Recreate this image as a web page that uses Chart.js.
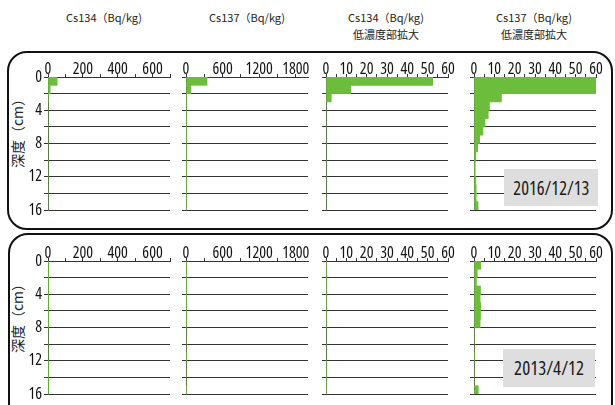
<!DOCTYPE html>
<html lang="ja">
<head>
<meta charset="UTF-8">
<title>深度別 放射性セシウム濃度</title>
<script src="https://cdn.jsdelivr.net/npm/chart.js"></script>
<style>
  body { margin: 0; width: 615px; height: 405px; background: #fff; position: relative; overflow: hidden;
         font-family: "Noto Sans CJK JP", "Noto Sans", sans-serif; color: #222; }
  #charts canvas { position: absolute; }
  .frame { position: absolute; border: 2px solid #111; border-radius: 20px; box-sizing: border-box; }
  .head { position: absolute; font-size: 11px; line-height: 17px; text-align: center; transform: translateX(-50%); white-space: nowrap; }
  .ytitle { position: absolute; font-size: 14px; white-space: nowrap; transform: translate(-50%, -50%) rotate(-90deg); }
  .date { position: absolute; background: #dedede; text-align: center; color: #1a1a1a;
          font-family: "Open Sans", sans-serif; font-stretch: condensed; font-size: 20px; }
  .date span { display: inline-block; }
</style>
</head>
<body>
<div class="frame" style="left:7px; top:51px; width:606px; height:179px;"></div>
<div class="frame" style="left:8px; top:233px; width:605px; height:190px;"></div>

<div class="head" style="left:104px; top:9px;">Cs134（Bq/kg)</div>
<div class="head" style="left:247px; top:9px;">Cs137（Bq/kg)</div>
<div class="head" style="left:386px; top:9px;">Cs134（Bq/kg)<br>低濃度部拡大</div>
<div class="head" style="left:534px; top:9px;">Cs137（Bq/kg)<br>低濃度部拡大</div>

<div class="ytitle" style="left:17px; top:130px;">深度（cm）</div>
<div class="ytitle" style="left:17px; top:315px;">深度（cm）</div>

<div id="charts"></div>

<div class="date" style="left:504px; top:169px; width:94px; height:37px; line-height:37px;"><span>2016/12/13</span></div>
<div class="date" style="left:503px; top:349px; width:92px; height:38px; line-height:38px;"><span>2013/4/12</span></div>

<script>
// depth of each 1 cm layer (centre of the layer), cm
const depthMid = [0.5, 1.5, 2.5, 3.5, 4.5, 5.5, 6.5, 7.5, 8.5, 9.5, 10.5, 11.5, 12.5, 13.5, 14.5, 15.5];

// Bq/kg per layer
const cs134_2016 = [52.5, 12.2, 2.6, 0, 0, 0, 0, 0, 0, 0, 0, 0, 0, 0, 0, 0];
const cs137_2016 = [345, 80, 13.5, 7.6, 7.0, 5.4, 4.4, 2.8, 1.8, 0.9, 0.6, 0.6, 0.9, 1.1, 1.1, 2.0];
const cs134_2013 = [0.3, 0.3, 0.3, 0.3, 0.3, 0.3, 0.3, 0.3, 0, 0, 0, 0, 0.3, 0.3, 0.3, 0.3];
const cs137_2013 = [3.3, 1.6, 1.2, 3.2, 3.0, 3.3, 3.2, 3.0, 0, 0, 0, 0.3, 0, 0, 0, 2.1];

// x axis per column: full range, full range, low-concentration zoom, zoom
const xMax = [700, 2000, 60, 60];
const xStep = [100, 300, 5, 5];
const xLabelStep = [200, 600, 10, 10];

const rows = [
  [cs134_2016, cs137_2016, cs134_2016, cs137_2016],
  [cs134_2013, cs137_2013, cs134_2013, cs137_2013]
];

// layout (plot area positions on the page)
const colLeft = [48, 186, 326, 474];
const rowTop = [77, 261];
const PW = 122, PH = 133, ML = 40, MT = 30, MR = 14, MB = 10;

const GREEN = '#6bbd3b';
// weight slot carries the font-stretch keyword so the canvas gets a condensed face
const tickFont = { family: "'Open Sans', sans-serif", size: 16, weight: 'condensed', lineHeight: 1 };

function makePanel(r, c) {
  const vals = rows[r][c];
  const cv = document.createElement('canvas');
  cv.width = ML + PW + MR;
  cv.height = MT + PH + MB;
  cv.style.left = (colLeft[c] - ML) + 'px';
  cv.style.top = (rowTop[r] - MT) + 'px';
  document.getElementById('charts').appendChild(cv);

  new Chart(cv, {
    type: 'bar',
    data: {
      datasets: [{
        data: depthMid.map((d, i) => ({ x: vals[i], y: d })),
        backgroundColor: GREEN,
        borderWidth: 0,
        barPercentage: 1,
        categoryPercentage: 1,
        clip: 0
      }]
    },
    options: {
      responsive: false,
      animation: false,
      indexAxis: 'y',
      layout: { padding: { left: 0, top: 0, right: MR, bottom: MB } },
      plugins: { legend: { display: false }, tooltip: { enabled: false } },
      scales: {
        x: {
          type: 'linear', position: 'top', min: 0, max: xMax[c],
          ticks: {
            stepSize: xStep[c], includeBounds: false, autoSkip: false, maxRotation: 0, minRotation: 0,
            padding: -3, font: tickFont, color: '#111',
            callback: v => (v % xLabelStep[c] === 0 ? v : '')
          },
          grid: { drawOnChartArea: false, tickLength: 3, tickColor: '#333' },
          border: { color: '#333' },
          afterFit: s => { s.height = MT; s.paddingLeft = 0; s.paddingRight = 0; }
        },
        y: {
          type: 'linear', reverse: true, min: 0, max: 16, offset: false, z: 1,
          ticks: {
            stepSize: 2, autoSkip: false, padding: 2, font: tickFont, color: '#111',
            callback: v => (c === 0 && v % 4 === 0 ? v : '')
          },
          grid: { offset: false, color: '#333', tickLength: 4, tickColor: '#333' },
          border: { color: '#555' },
          afterFit: s => { s.width = ML; s.paddingTop = 0; s.paddingBottom = 0; }
        }
      }
    }
  });
}

for (let r = 0; r < 2; r++) {
  for (let c = 0; c < 4; c++) makePanel(r, c);
}

// squeeze the date labels to the width of the originals
const dateWidth = [76, 70];
document.querySelectorAll('.date span').forEach((el, i) => {
  const w = el.getBoundingClientRect().width;
  el.style.transform = 'scaleX(' + (dateWidth[i] / w).toFixed(3) + ')';
});
</script>
</body>
</html>
